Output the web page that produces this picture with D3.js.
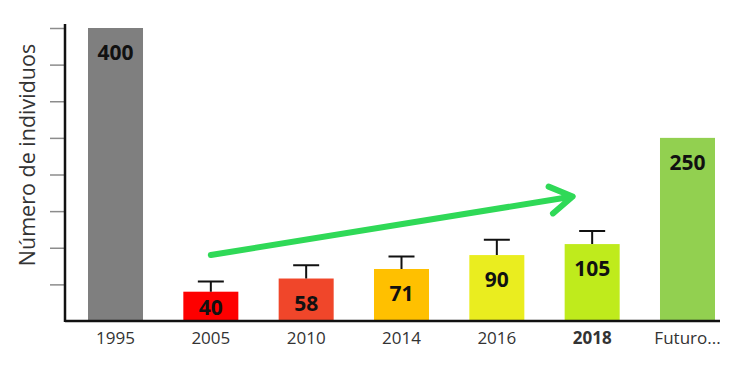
<!DOCTYPE html>
<html>
<head>
<meta charset="utf-8">
<script src="https://cdn.jsdelivr.net/npm/d3@7"></script>
<style>
  body { margin: 0; background: #fff; }
  svg { display: block; font-family: "Open Sans", sans-serif; }
</style>
</head>
<body>
<div class="chart"></div>
<script>
// categories and values
var categories = ['1995', '2005', '2010', '2014', '2016', '2018', 'Futuro...'];
var values = [400, 40, 58, 71, 90, 105, 250];
var errors = [null, 14, 18, 17, 21, 18, null];
var colours = ['#7f7f7f', '#fe0000', '#f0462a', '#ffc000', '#eaed1f', '#bfeb1c', '#92d050'];
var boldLabel = '2018';
var yTicks = [50, 100, 150, 200, 250, 300, 350, 400];

var width = 750, height = 374;
var margin = { top: 28, right: 35, bottom: 53, left: 65 };
var baseline = height - margin.bottom;

var svg = d3.select('.chart').append('svg')
  .attr('width', width)
  .attr('height', height);

var x = d3.scaleBand()
  .domain(categories)
  .range([88, 715])
  .paddingInner(0.423)
  .paddingOuter(0);

var y = d3.scaleLinear()
  .domain([0, 400])
  .range([baseline, margin.top]);

var data = categories.map((c, i) => ({ cat: c, value: values[i], err: errors[i], colour: colours[i] }));

// y axis: unlabeled grey ticks
svg.append('g')
  .attr('transform', `translate(${margin.left},0)`)
  .call(d3.axisLeft(y).tickValues(yTicks).tickSize(15).tickFormat(''))
  .call(g => g.select('.domain').remove())
  .call(g => g.selectAll('.tick line').attr('stroke', '#8c8c8c').attr('stroke-width', 1.5));

// bars
svg.selectAll('.bar')
  .data(data)
  .enter()
  .append('rect')
    .attr('class', 'bar')
    .attr('x', d => x(d.cat))
    .attr('y', d => y(d.value))
    .attr('width', x.bandwidth())
    .attr('height', d => baseline - y(d.value))
    .attr('fill', d => d.colour);

// error bars
var withErr = data.filter(d => d.err != null);
svg.selectAll('.err')
  .data(withErr)
  .enter()
  .append('path')
    .attr('class', 'err')
    .attr('fill', 'none')
    .attr('stroke', '#111')
    .attr('stroke-width', 2)
    .attr('d', d => {
      var cx = x(d.cat) + x.bandwidth() / 2;
      var top = y(d.value + d.err);
      return `M${cx},${y(d.value)}V${top}M${cx - 13},${top}H${cx + 13}`;
    });

// value labels
svg.selectAll('.val')
  .data(data)
  .enter()
  .append('text')
    .attr('class', 'val')
    .attr('x', d => x(d.cat) + x.bandwidth() / 2)
    .attr('y', d => Math.min(y(d.value) + 32, baseline - 6))
    .attr('text-anchor', 'middle')
    .style('font-size', '21px')
    .style('font-weight', 'bold')
    .attr('fill', '#111')
    .text(d => d.value);

// axes lines
svg.append('line')
  .attr('x1', margin.left).attr('x2', margin.left)
  .attr('y1', 24).attr('y2', baseline + 1)
  .attr('stroke', '#111').attr('stroke-width', 2.5);

svg.append('g')
  .attr('transform', `translate(0,${baseline})`)
  .call(d3.axisBottom(x).tickSize(0).tickPadding(11))
  .call(g => g.select('.domain').attr('d', `M${margin.left},0H720`).attr('stroke', '#111').attr('stroke-width', 2.5))
  .call(g => g.selectAll('.tick text')
    .style('font-size', '17px')
    .style('font-family', '"Open Sans", sans-serif')
    .attr('fill', '#333')
    .style('font-weight', d => d === boldLabel ? 'bold' : 'normal'));

// y axis title
svg.append('text')
  .attr('transform', `translate(35,${155}) rotate(-90)`)
  .attr('text-anchor', 'middle')
  .style('font-size', '21.5px')
  .attr('fill', '#333')
  .text('Número de individuos');

// green trend arrow
var ax1 = x('2005') + x.bandwidth() / 2, ay1 = y(90);
var ax2 = x('2018') + 8, ay2 = y(170);
var ang = Math.atan2(ay2 - ay1, ax2 - ax1);
var head = 26, spread = 0.55;
svg.append('path')
  .attr('fill', 'none')
  .attr('stroke', '#2fd957')
  .attr('stroke-width', 6)
  .attr('stroke-linecap', 'round')
  .attr('stroke-linejoin', 'round')
  .attr('d', `M${ax1},${ay1}L${ax2},${ay2}` +
    `M${ax2 - head * Math.cos(ang - spread)},${ay2 - head * Math.sin(ang - spread)}L${ax2},${ay2}` +
    `L${ax2 - head * Math.cos(ang + spread)},${ay2 - head * Math.sin(ang + spread)}`);
</script>
</body>
</html>
